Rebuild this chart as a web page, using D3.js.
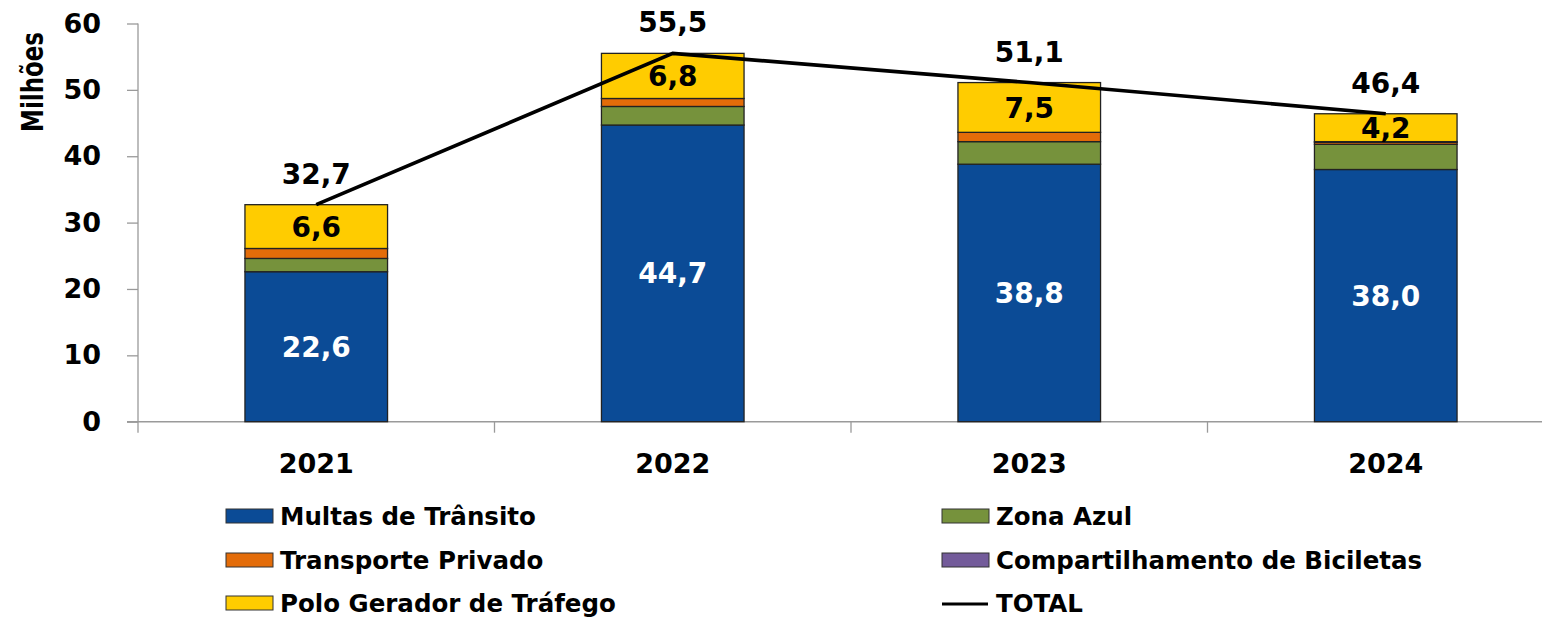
<!DOCTYPE html>
<html>
<head>
<meta charset="utf-8">
<script src="https://cdn.jsdelivr.net/npm/d3@7/dist/d3.min.js"></script>
<style>
  html, body { margin: 0; padding: 0; background: #fff; }
  svg { display: block; }
  text { font-family: "DejaVu Sans", Verdana, sans-serif; font-weight: bold; }
</style>
</head>
<body>
<svg id="chart" width="1542" height="619"></svg>
<script>
// ---- Data ----
const years = ["2021", "2022", "2023", "2024"];
const multas = [22.6, 44.7, 38.8, 38.0];
const zonaAzul = [2.0, 2.8, 3.4, 3.8];
const transporte = [1.5, 1.2, 1.4, 0.3];
const bicicletas = [0.0, 0.0, 0.0, 0.1];
const polo = [6.6, 6.8, 7.5, 4.2];
const total = [32.7, 55.5, 51.1, 46.4];
const yTicks = [0, 10, 20, 30, 40, 50, 60];
const seriesNames = ["Multas de Trânsito", "Zona Azul", "Transporte Privado", "Compartilhamento de Biciletas", "Polo Gerador de Tráfego"];
const seriesColors = ["#0b4b96", "#76923c", "#e36c09", "#735b9a", "#ffcc00"];
const totalName = "TOTAL";

// ---- Layout ----
const svg = d3.select("#chart");
const x0 = 138, x1 = 1564, yBottom = 421.7, yTop = 23.5;

const x = d3.scaleBand().domain(years).range([x0, x1]).paddingInner(0.6).paddingOuter(0.3);
const y = d3.scaleLinear().domain([0, 60]).range([yBottom, yTop]);

const rows = years.map((yr, i) => ({
  year: yr,
  s0: multas[i], s1: zonaAzul[i], s2: transporte[i], s3: bicicletas[i], s4: polo[i]
}));
const stack = d3.stack().keys(["s0", "s1", "s2", "s3", "s4"]);
const stacked = stack(rows);

const axisColor = "#9a9a9a";

// Y axis
const yAxis = d3.axisLeft(y).tickValues(yTicks).tickSize(11).tickPadding(26).tickFormat(d3.format("d"));
const gy = svg.append("g").attr("transform", `translate(${x0},0)`).call(yAxis);
gy.select(".domain").remove();
gy.selectAll(".tick line").attr("stroke", axisColor).attr("stroke-width", 1.3);
gy.selectAll(".tick text").attr("font-size", 27).attr("fill", "#000")
  .style("font-family", '"DejaVu Sans", Verdana, sans-serif').style("font-weight", "bold");
svg.append("line").attr("x1", x0).attr("x2", x0).attr("y1", yTop).attr("y2", yBottom + 11)
  .attr("stroke", axisColor).attr("stroke-width", 1.3);

// X axis
svg.append("line").attr("x1", x0 - 11).attr("x2", 1542).attr("y1", yBottom).attr("y2", yBottom)
  .attr("stroke", axisColor).attr("stroke-width", 1.5);
const step = x.step();
svg.selectAll("line.cat-tick").data(years.slice(1)).join("line").attr("class", "cat-tick")
  .attr("x1", (d, i) => x0 + (i + 1) * step).attr("x2", (d, i) => x0 + (i + 1) * step)
  .attr("y1", yBottom).attr("y2", yBottom + 11)
  .attr("stroke", axisColor).attr("stroke-width", 1.3);
svg.selectAll("text.cat").data(years).join("text").attr("class", "cat")
  .attr("x", d => x(d) + x.bandwidth() / 2).attr("y", 473)
  .attr("text-anchor", "middle").attr("font-size", 27).attr("fill", "#000").text(d => d);

// Y title
svg.append("text").attr("transform", "translate(43,82) rotate(-90) scale(0.74,1)")
  .attr("text-anchor", "middle").attr("font-size", 31).attr("fill", "#000").text("Milhões");

// Bars
stacked.forEach((layer, li) => {
  svg.append("g").selectAll("rect").data(layer).join("rect")
    .attr("x", d => x(d.data.year))
    .attr("width", x.bandwidth())
    .attr("y", d => y(d[1]))
    .attr("height", d => Math.max(0, y(d[0]) - y(d[1])))
    .attr("fill", seriesColors[li])
    .attr("stroke", "#222").attr("stroke-width", 1.3);
});

// Multas labels (white)
svg.selectAll("text.lbl-m").data(stacked[0]).join("text").attr("class", "lbl-m")
  .attr("x", d => x(d.data.year) + x.bandwidth() / 2)
  .attr("y", d => (y(d[0]) + y(d[1])) / 2).attr("dy", "0.36em")
  .attr("text-anchor", "middle").attr("font-size", 28).attr("fill", "#fff")
  .text(d => d3.format(".1f")(d[1] - d[0]).replace(".", ","));

// Polo labels
svg.selectAll("text.lbl-p").data(stacked[4]).join("text").attr("class", "lbl-p")
  .attr("x", d => x(d.data.year) + x.bandwidth() / 2)
  .attr("y", d => (y(d[0]) + y(d[1])) / 2).attr("dy", "0.36em")
  .attr("text-anchor", "middle").attr("font-size", 28).attr("fill", "#000")
  .text(d => d3.format(".1f")(d[1] - d[0]).replace(".", ","));

// Total line
const line = d3.line().x((d, i) => x(years[i]) + x.bandwidth() / 2).y(d => y(d));
svg.append("path").datum(total).attr("d", line)
  .attr("fill", "none").attr("stroke", "#000").attr("stroke-width", 3.6);

svg.selectAll("text.lbl-t").data(total).join("text").attr("class", "lbl-t")
  .attr("x", (d, i) => x(years[i]) + x.bandwidth() / 2)
  .attr("y", d => y(d) - 21)
  .attr("text-anchor", "middle").attr("font-size", 28).attr("fill", "#000")
  .text(d => d3.format(".1f")(d).replace(".", ","));

// Legend
const legendItems = [
  { name: seriesNames[0], color: seriesColors[0], col: 0, row: 0 },
  { name: seriesNames[1], color: seriesColors[1], col: 1, row: 0 },
  { name: seriesNames[2], color: seriesColors[2], col: 0, row: 1 },
  { name: seriesNames[3], color: seriesColors[3], col: 1, row: 1 },
  { name: seriesNames[4], color: seriesColors[4], col: 0, row: 2 },
  { name: totalName, color: null, col: 1, row: 2 }
];
const colX = [226, 942];
const rowY = [516, 560, 603];
const lg = svg.append("g");
legendItems.forEach(it => {
  const sx = colX[it.col], cy = rowY[it.row];
  if (it.color) {
    lg.append("rect").attr("x", sx).attr("y", cy - 7).attr("width", 47).attr("height", 14)
      .attr("fill", it.color).attr("stroke", "#333").attr("stroke-width", 1);
  } else {
    lg.append("line").attr("x1", sx).attr("x2", sx + 46).attr("y1", cy + 1).attr("y2", cy + 1)
      .attr("stroke", "#000").attr("stroke-width", 3);
  }
  lg.append("text").attr("x", sx + 54).attr("y", cy).attr("dy", "0.36em")
    .attr("font-size", 24.5).attr("fill", "#000").text(it.name);
});
</script>
</body>
</html>
